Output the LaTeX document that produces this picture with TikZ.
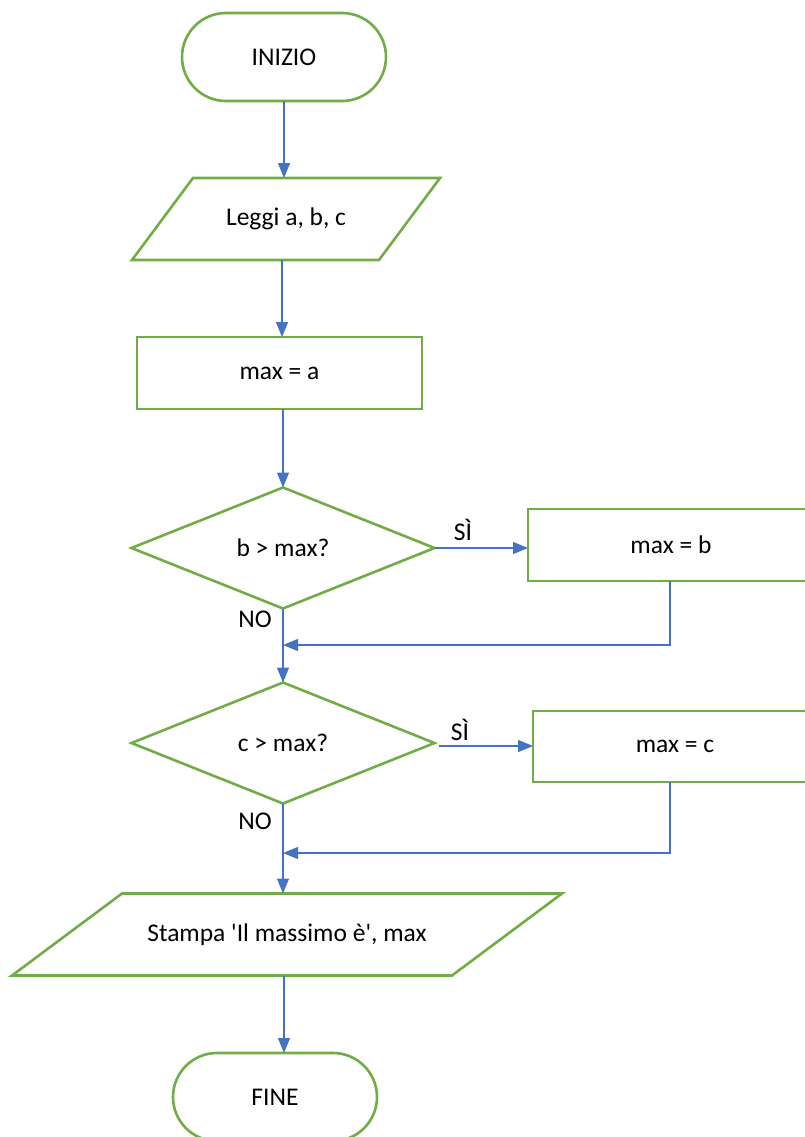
\documentclass[tikz,border=0pt]{standalone}
\usepackage{fontspec}
\newfontfamily\myfont{Carlito}
\usetikzlibrary{shapes.geometric,arrows.meta,calc}
\definecolor{flgreen}{HTML}{70AD47}
\definecolor{flblue}{HTML}{4472C4}
\tikzset{
  base/.style={font=\myfont\fontsize{25.5}{30}\selectfont, inner sep=0pt, outer sep=0pt, text=black},
  term/.style={base, draw=flgreen, line width=2.6pt, fill=white, rounded corners=44pt, minimum width=204pt, minimum height=88pt},
  procbox/.style={base, draw=flgreen, line width=2.6pt, fill=white, minimum width=285pt, minimum height=72pt},
  iobox/.style={base, minimum width=#1, minimum height=82pt},
  decbox/.style={base, diamond, draw=flgreen, line width=2.6pt, fill=white, minimum width=303pt, minimum height=121pt},
  conn/.style={draw=flblue, line width=1.2pt, -{Triangle[length=15pt,width=12pt]}},
  lbl/.style={base}
}
\begin{document}
\begin{tikzpicture}[x=1pt,y=-1pt]
\useasboundingbox (0,0) rectangle (805,1137);
% nodes
\node[term] (start) at (284,57) {INIZIO};
\node[iobox=308pt] (read) at (286,219) {Leggi a, b, c};
\draw[flgreen, line width=2.6pt, line join=miter]
  (read.south west) -- ($(read.north west)+(61,0)$) -- (read.north east) -- ($(read.south east)-(61,0)$) -- cycle;
\node[procbox] (init) at (279.5,373) {max = a};
\node[decbox] (d1) at (283,548) {b > max?};
\node[procbox, minimum width=286pt] (pb) at (671,545) {max = b};
\node[decbox] (d2) at (283,743) {c > max?};
\node[procbox, minimum width=284pt, minimum height=71pt] (pc) at (675,746.5) {max = c};
\node[iobox=550pt] (out) at (287,934.5) {Stampa 'Il massimo è', max};
\draw[flgreen, line width=2.6pt, line join=miter]
  (out.south west) -- ($(out.north west)+(110,0)$) -- (out.north east) -- ($(out.south east)-(110,0)$) -- cycle;
\node[term] (stop) at (275,1097) {FINE};
% helper points
\coordinate (m1) at (283,645);
\coordinate (m2) at (283,853);
\coordinate (d2e) at ($(d2.east)+(4,3)$);
% connectors
\draw[conn] (start.south) -- (start.south |- read.north);
\draw[conn] (read.south -| 282,0) -- (282,0 |- init.north);
\draw[conn] (d1.north |- init.south) -- (d1.north);
\draw[conn] (d1.east) -- (d1.east -| pb.west);
\draw[conn] (d1.south) -- (d2.north);
\draw[conn] (pb.south -| 670,0) |- (m1);
\draw[conn] (d2e) -- (d2e -| pc.west);
\draw[conn] (d2.south) -- (out.north -| d2.south);
\draw[conn] (pc.south -| 670,0) |- (m2);
\draw[conn] (out.south -| 284,0) -- (284,0 |- stop.north);
% labels
\node[lbl] (s1) at (463,530) {SÌ};
\node[lbl] (n1) at (255,619) {NO};
\node[lbl] (s2) at (460,730) {SÌ};
\node[lbl] (n2) at (255,821) {NO};
\end{tikzpicture}
\end{document}
